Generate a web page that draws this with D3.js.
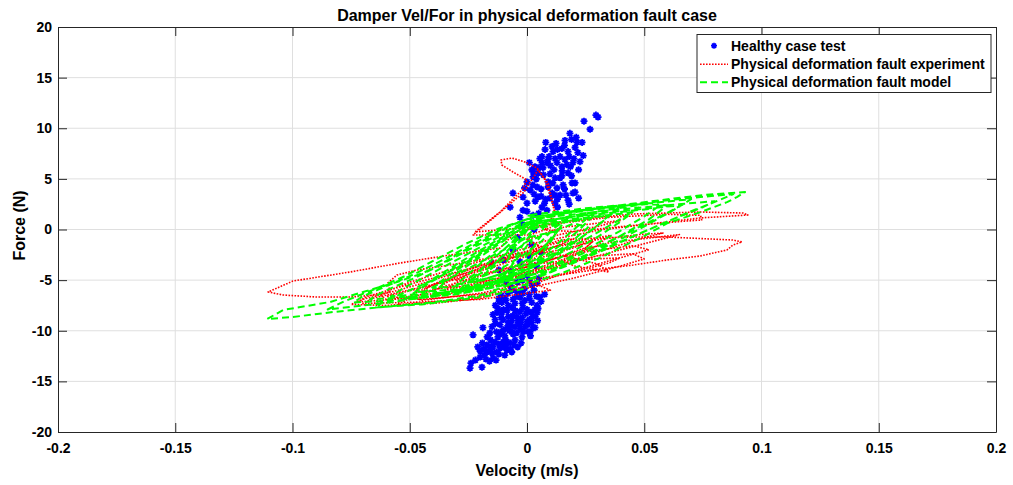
<!DOCTYPE html>
<html>
<head>
<meta charset="utf-8">
<script src="https://cdn.jsdelivr.net/npm/d3@7"></script>
<style>
  body { margin: 0; background: #fff; }
  svg { display: block; }
  text { font-family: "Liberation Sans", Arial, Helvetica, sans-serif; font-weight: bold; fill: #000; }
</style>
</head>
<body>
<svg id="chart" width="1013" height="485"></svg>
<script>
// ---- data: velocity (m/s), force (N) ----
const xTicks = [-0.2, -0.15, -0.1, -0.05, 0, 0.05, 0.1, 0.15, 0.2];
const yTicks = [-20, -15, -10, -5, 0, 5, 10, 15, 20];
const seriesNames = ["Healthy case test", "Physical deformation fault experiment", "Physical deformation fault model"];

// healthy damper measurements (scatter)
const healthyPoints = [
  [0.0294,11.3],[0.0303,11.1],[0.0243,10.7],[0.0269,9.9],[0.0183,9.5],[0.0124,8.5],[0.0162,8.8],[0.0213,8.6],
  [0.0235,8.6],[0.0149,8.0],[0.0175,7.7],[0.0205,8.1],[0.0217,7.6],[0.0111,7.7],[0.0094,7.2],[0.0141,7.2],
  [0.0162,6.9],[0.0085,6.6],[0.0068,6.1],[0.0128,6.6],[0.0149,6.2],[0.0196,6.6],[0.0226,6.7],[0.0175,5.6],
  [0.0141,5.1],[0.0154,4.4],[0.0205,4.6],[0.0205,3.7],[0.0141,3.4],[0.0175,2.9],[0.0098,3.1],[0.0021,5.9],
  [0.0034,6.2],[0.0064,6.6],[0.0047,5.6],[0.0026,5.2],[0.0,4.7],[0.0013,3.9],[-0.0017,3.2],[0.0,2.6],
  [-0.0017,1.9],[0.0043,4.2],[0.0047,3.2],[0.0064,2.2],[0.0085,1.9],[0.009,4.7],[0.0107,3.6],[-0.0072,2.2],
  [-0.003,1.2],[0.0026,1.4],[-0.006,3.6],[0.0064,7.2],[0.0026,5.7],[0.0107,8.2],[0.0077,7.9],[0.0128,4.1],
  [0.0119,2.6],[0.0166,3.4],[0.0192,4.6],[0.0149,5.3],[0.0119,3.4],[0.0196,3.6],[0.0098,5.5],[0.006,4.0],
  [0.0035,2.8],[0.008,3.0],[0.0115,5.9],[0.0185,6.2],[0.0055,7.0],
  [0.004,5.0],[0.007,5.4],[0.01,6.3],[0.012,7.0],[0.009,6.9],[0.013,7.9],[0.016,8.3],[0.018,7.2],[0.02,7.0],
  [0.017,6.4],[0.015,5.8],[0.012,5.1],[0.009,4.2],[0.006,3.3],[0.003,3.5],[0.011,4.6],[0.013,3.0],[0.016,4.0],
  [0.019,5.3],[0.022,5.9],[0.024,7.3],[0.021,9.1],[0.019,8.9],[0.008,8.6],[0.005,6.1],[0.001,6.6],[0.0025,4.4],
  [-0.001,4.1],[0.0075,2.6],[0.013,2.2],[0.018,2.5],[0.022,3.1],[0.0,1.8],[0.005,1.6],
  [-0.002,0.5],[0.003,0.0],[-0.004,-0.8],[0.002,-1.5],[-0.006,-2.0],[0.001,-2.6],[-0.003,-3.2],[0.004,-3.6],
  [-0.007,-4.1],[0.0,-4.5],[-0.01,-3.0],[0.006,-2.2],[-0.012,-4.0],[-0.015,-3.3],[-0.002,-5.0],[0.005,-4.8],
  [-0.009,-5.2],
  [-0.0239,-13.2],[-0.0243,-13.7],[-0.0192,-13.6],[-0.0132,-12.9],[-0.023,-10.4],[-0.0188,-9.7],[-0.02,-12.0],
  [-0.0183,-12.4],[-0.0158,-11.9],[-0.0145,-11.6],[-0.0115,-11.7],[-0.0085,-11.9],[-0.0072,-11.8],[-0.0158,-10.2],
  [-0.0149,-9.6],[-0.0136,-8.9],[-0.0128,-8.2],[-0.0124,-7.8],[-0.0107,-7.2],[-0.0094,-6.8],[-0.0081,-6.3],
  [-0.0064,-6.0],[-0.0119,-7.1],[-0.0085,-8.0],[-0.0064,-7.7],[-0.0051,-7.3],[-0.0043,-8.6],[-0.003,-8.1],
  [-0.0017,-7.7],[0.0,-9.1],[0.0004,-9.4],[0.0026,-9.7],[0.0026,-8.6],[0.0034,-7.9],[0.0043,-7.5],[0.0055,-6.7],
  [-0.0009,-7.0],[-0.003,-6.7],[-0.0017,-6.3],[0.003,-6.0],[0.0021,-5.5],[-0.0124,-10.6],[-0.0102,-11.1],
  [-0.0072,-11.2],[-0.0051,-10.9],[-0.0021,-10.6],[-0.0017,-10.1],[-0.0064,-10.1],[-0.0051,-9.6],[-0.0081,-9.2],
  [-0.0102,-8.9],[-0.0107,-8.2],[-0.0136,-11.1],[-0.0171,-11.4],[-0.0149,-12.2],[0.0004,-10.1],[-0.0085,-9.7],
  [-0.0107,-10.1],[0.0017,-8.2],[0.0043,-8.2],[0.0047,-7.8],[0.0034,-9.7],[0.0013,-10.1],[0.0043,-5.3],
  [-0.0175,-12.8],[-0.012,-12.3],[-0.0095,-10.5],[-0.006,-8.5],[-0.0035,-9.3],[-0.0005,-8.3],[0.001,-6.8],
  [-0.0045,-6.6],[-0.0065,-9.0],[-0.0115,-9.4],[-0.0155,-10.9],[-0.0095,-12.4],[-0.0055,-11.4],[-0.0025,-11.2],
  [0.0075,-6.4],[-0.011,-6.5],[-0.0135,-7.5],
  [-0.001,-5.8],[0.001,-6.4],[-0.004,-6.2],[-0.006,-6.9],[-0.002,-7.3],[0.002,-7.2],[-0.008,-7.5],[-0.01,-7.9],
  [-0.005,-8.0],[-0.002,-8.7],[0.001,-8.9],[-0.008,-8.6],[-0.011,-8.7],[-0.004,-9.0],[-0.007,-9.5],[-0.003,-9.8],
  [-0.01,-9.9],[-0.013,-10.1],[-0.009,-10.9],[-0.006,-10.3],[-0.012,-11.3],[-0.015,-11.5],[-0.01,-11.6],
  [-0.013,-12.1],[-0.017,-12.1],[-0.02,-12.6],[-0.016,-13.0],[-0.022,-12.9],[-0.004,-11.6],[-0.001,-9.6],
  [0.002,-9.2],[0.0,-7.9],[-0.009,-7.0],[-0.0135,-9.3],[-0.017,-10.6],[-0.019,-11.2],[-0.0115,-10.3],
  [-0.0075,-10.0],[-0.0045,-10.2],[-0.0145,-8.4],[-0.012,-6.8],[-0.007,-5.6],[-0.004,-5.2],[0.001,-5.0],
  [0.004,-6.6],[0.006,-7.1],[0.0035,-8.6],[-0.0025,-9.2],[-0.009,-11.4],[-0.0065,-12.1],[-0.0145,-12.7],
  [-0.0185,-11.8],[-0.021,-11.6],[-0.0025,-6.0],[0.0015,-10.5],[0.0045,-9.0]
];

// measured trajectory with the deformed damper
const experimentPath = [
  [0.0,-1.5],[0.0141,-0.84],[0.0311,-0.05],[0.0452,0.35],[0.0597,0.74],[0.0738,1.14],[0.0942,1.43],[0.0921,1.63],
  [0.0738,1.73],[0.0597,1.63],[0.0452,1.53],[0.0311,1.23],[0.0141,0.74],[0.0,0.2],
  [-0.0222,-0.25],[-0.0115,1.73],[-0.0021,3.9],[0.0,4.89],[-0.006,5.68],[-0.0107,6.37],[-0.0111,6.86],[-0.0064,7.06],
  [-0.0009,6.67],[0.0043,6.07],[0.0077,4.89],[0.0098,3.41],[0.0111,2.42],[0.0119,1.43],[0.0098,0.15],[0.0013,-0.54],
  [-0.023,-0.54],[-0.0128,1.43],[-0.0013,3.7],[0.0047,5.88],[0.009,4.59],[0.0107,2.91],[0.0119,1.73],[0.0077,-0.05],
  [0.02,-0.2],[0.045,0.4],[0.066,0.8],[0.0745,0.94],[0.074,1.4],[0.06,1.5],[0.035,1.2],[0.01,0.5],[-0.005,-0.3],
  [-0.0115,-1.83],[-0.0328,-2.52],[-0.0542,-3.31],[-0.0755,-4.2],[-0.0998,-5.09],[-0.1104,-6.17],[-0.104,-6.47],
  [-0.0896,-6.67],[-0.0755,-6.67],[-0.064,-6.47],[-0.0584,-6.17],[-0.0593,-5.28],[-0.0554,-4.49],[-0.0469,-4.0],
  [-0.0328,-3.51],[-0.0158,-2.81],[0.0,-2.2],
  [0.0141,-1.04],[0.0311,-0.84],[0.0452,-0.74],[0.0597,-0.74],[0.0878,-1.04],[0.0917,-1.23],[0.0878,-1.53],
  [0.0853,-2.02],[0.0738,-2.62],[0.0597,-3.01],[0.0452,-3.51],[0.0311,-3.9],[0.0141,-4.49],[0.0,-4.99],
  [-0.02,-5.8],[-0.04,-6.6],[-0.0725,-7.16],[-0.068,-6.6],[-0.05,-5.4],[-0.03,-4.2],[-0.01,-3.0],[0.01,-1.8],
  [0.03,-1.0],[0.048,-0.5],[0.058,-0.35],[0.05,-0.8],[0.04,-1.5],[0.025,-2.6],[0.01,-3.8],[-0.01,-5.0],
  [-0.035,-6.2],[-0.06,-6.9],[-0.063,-6.4],[-0.05,-5.2],[-0.03,-3.8],[-0.012,-2.6],[0.005,-1.5],
  [0.0,-3.5],[0.02,-3.0],[0.0397,-2.8],[0.035,-3.3],[0.02,-4.2],[0.0,-5.3],[-0.02,-6.3],[-0.045,-7.0],
  [-0.05,-6.5],[-0.035,-5.0],[-0.02,-3.8],[0.0,-2.4],
  [0.02,-1.2],[0.035,-0.6],[0.03,-1.6],[0.015,-3.0],[0.0,-4.2],[-0.02,-5.2],[-0.03,-5.0],[-0.02,-3.8],[-0.008,-2.8],
  [0.015,-2.0],[0.028,-1.2],[0.022,-2.4],[0.01,-3.6],[-0.005,-4.6],[-0.025,-5.6],[-0.038,-5.8],[-0.03,-4.6],[-0.015,-3.6],
  [0.01,-6.0],[-0.02,-6.9],[-0.05,-7.2],[-0.07,-7.3],[-0.066,-6.8],[-0.045,-5.7],[-0.02,-4.4],[0.005,-3.2],
  [0.025,-2.2],[0.045,-1.6],[0.052,-2.0],[0.035,-3.1],[0.015,-4.4],[0.0,-5.6],
  [-0.02,-6.8],[-0.04,-7.3],[-0.055,-7.4],[-0.05,-6.8],[-0.035,-5.6],[-0.02,-4.6],[0.0,-3.2],[0.02,-1.8],
  [0.03,-0.8],[0.025,-1.8],[0.01,-3.0],[-0.005,-4.0],[-0.02,-5.0],[-0.045,-6.2],[-0.04,-5.4],[-0.025,-4.0],
  [-0.01,-2.8],[0.005,-2.0],[0.02,-3.6],[0.035,-4.2],[0.03,-3.4],[0.012,-2.4],[0.0,-1.0],[0.015,0.2],
  [0.04,0.9],[0.03,0.3],[0.012,-0.6],
  [-0.01,-6.2],[-0.03,-7.0],[-0.06,-7.5],[-0.075,-7.4],[-0.07,-6.9],[-0.055,-6.0],[-0.04,-5.0],[-0.025,-3.9],
  [-0.01,-2.8],[0.005,-1.8],[0.02,-0.9],[0.01,-1.9],[-0.005,-3.0],[-0.02,-4.1],[-0.04,-5.5],[-0.06,-6.6],
  [-0.045,-6.9],[-0.02,-6.4],[0.0,-5.8],[0.02,-4.8],[0.04,-3.6],[0.05,-2.9],[0.045,-2.4],[0.03,-2.6],[0.015,-3.4],
  [-0.002,-4.3],[-0.018,-5.1],[-0.035,-6.0],[-0.03,-5.2],[-0.015,-4.3],[0.0,-3.7],[0.02,-2.3],[0.035,-1.3],
  [0.05,-0.9],[0.065,-0.5],[0.055,-1.1],[0.04,-2.0],[0.02,-3.2],[0.0,-4.6]
];

// simulated trajectory from the fault model
const modelPath = [
  [0.002,1.2],[0.03,2.1],[0.057,2.9],[0.075,3.4],[0.093,3.7],[0.0895,3.2],[0.0853,2.7],[0.0738,1.7],[0.0597,0.6],
  [0.0495,-0.7],[0.0397,-1.8],[0.0311,-2.8],[0.015,-4.3],[0.0,-5.4],[-0.02,-6.5],[-0.04,-7.2],[-0.0614,-7.65],
  [-0.0827,-8.15],[-0.0998,-8.64],[-0.1108,-8.84],[-0.104,-7.95],[-0.084,-7.16],[-0.0699,-6.17],[-0.0554,-5.19],
  [-0.0443,-4.3],[-0.0358,-3.3],[-0.0286,-2.3],[-0.0171,-0.9],[-0.006,0.5],[0.002,1.2],
  [0.03,2.0],[0.06,2.9],[0.088,3.5],[0.082,2.9],[0.07,1.8],[0.055,0.3],[0.04,-1.2],[0.025,-2.7],[0.01,-4.2],
  [-0.005,-5.3],[-0.03,-6.4],[-0.055,-7.0],[-0.074,-7.2],[-0.07,-6.6],[-0.06,-5.6],[-0.048,-4.4],[-0.035,-2.9],
  [-0.022,-1.3],[-0.01,0.1],[0.0,1.0],
  [0.04,2.0],[0.08,2.8],[0.075,2.2],[0.062,1.0],[0.048,-0.4],[0.034,-1.9],[0.02,-3.3],[0.005,-4.7],[-0.015,-5.7],
  [-0.04,-6.5],[-0.067,-6.9],[-0.06,-6.0],[-0.048,-4.8],[-0.036,-3.4],[-0.024,-1.9],[-0.012,-0.5],[-0.002,0.6],
  [0.03,1.6],[0.066,2.4],[0.06,1.6],[0.05,0.3],[0.038,-1.2],[0.025,-2.6],[0.01,-4.0],[-0.01,-5.2],[-0.035,-6.2],
  [-0.058,-6.6],[-0.052,-5.7],[-0.042,-4.5],[-0.03,-3.0],[-0.018,-1.5],[-0.008,-0.2],[0.0,0.7],
  [0.03,1.5],[0.055,2.1],[0.05,1.3],[0.04,-0.1],[0.028,-1.6],[0.016,-3.0],[0.004,-4.3],[-0.012,-5.3],[-0.03,-5.9],
  [-0.048,-6.2],[-0.043,-5.3],[-0.034,-4.0],[-0.024,-2.6],[-0.013,-1.1],[-0.004,0.1],[0.0,0.5],
  [0.022,1.1],[0.045,1.7],[0.04,0.8],[0.031,-0.6],[0.02,-2.1],[0.008,-3.5],[-0.004,-4.7],[-0.02,-5.4],[-0.04,-5.8],
  [-0.035,-4.8],[-0.026,-3.4],[-0.016,-1.9],[-0.007,-0.5],[0.0,0.3],
  [0.035,1.4],[0.03,0.4],[0.022,-1.0],[0.012,-2.5],[0.002,-3.8],[-0.012,-4.8],[-0.03,-5.4],[-0.025,-4.4],
  [-0.018,-3.0],[-0.01,-1.5],[-0.003,-0.3],[0.0,0.2],
  [0.025,1.0],[0.02,0.0],[0.013,-1.4],[0.005,-2.8],[-0.005,-4.0],[-0.02,-5.0],[-0.016,-3.9],[-0.01,-2.5],
  [-0.004,-1.0],[0.0,0.0],
  [0.015,0.5],[0.011,-0.8],[0.005,-2.2],[-0.002,-3.6],[-0.012,-4.6],[-0.009,-3.3],[-0.005,-1.8],[0.004,1.3],
  [0.035,2.2],[0.07,3.0],[0.066,2.4],[0.056,1.2],[0.044,-0.2],[0.03,-1.7],[0.016,-3.2],[0.0,-4.6],[-0.025,-5.9],
  [-0.055,-7.1],[-0.085,-7.9],[-0.078,-7.1],[-0.065,-5.9],[-0.052,-4.6],[-0.04,-3.1],[-0.026,-1.4],[-0.012,0.1],[0.004,1.3],
  [0.0,1.4],[0.025,2.1],[0.05,2.6],[0.046,1.9],[0.036,0.5],[0.024,-1.1],[0.012,-2.6],[0.0,-4.0],[-0.015,-5.3],
  [-0.035,-6.4],[-0.052,-6.9],[-0.046,-5.9],[-0.036,-4.5],[-0.025,-3.0],[-0.014,-1.4],[-0.004,0.2],[0.012,1.6],
  [0.04,2.4],[0.036,1.5],[0.028,0.0],[0.018,-1.6],[0.008,-3.0],[-0.004,-4.4],[-0.02,-5.6],[-0.04,-6.4],
  [-0.036,-5.4],[-0.028,-4.0],[-0.018,-2.4],[-0.008,-0.8],[0.002,0.9],[0.02,1.8],[0.028,1.3],[0.022,-0.1],
  [0.014,-1.6],[0.004,-3.2],[-0.008,-4.6],[-0.022,-5.8],[-0.028,-5.4],[-0.02,-4.0],[-0.012,-2.4],[-0.004,-0.8],
  [0.004,0.8],[0.018,1.2],[0.012,0.2],[0.006,-1.2],[-0.002,-2.6],[-0.012,-4.0],[-0.024,-5.1],[-0.018,-3.6],
  [-0.01,-2.0],[-0.003,-0.5],[0.005,0.9],[0.008,0.9],[0.006,-0.6],[0.002,-2.0],[-0.003,-3.4],[-0.008,-4.8],
  [-0.006,-3.2],[-0.002,-1.6],[0.003,0.0],[0.01,1.0],[0.014,0.2],[0.009,-1.6],[0.003,-3.4],[-0.004,-5.2],
  [-0.014,-6.0],[-0.01,-4.6],[-0.004,-2.8],[0.002,-1.0],[0.0,-5.8],[-0.02,-6.7],[-0.045,-7.4],[-0.065,-7.7],
  [-0.06,-7.0],[-0.05,-6.0],[-0.04,-5.0],[-0.03,-3.8],[-0.02,-2.4],[-0.01,-1.0],[0.0,0.4],[0.02,1.4],[0.05,2.5],
  [0.06,2.4],[0.052,1.0],[0.04,-0.6],[0.028,-2.2],[0.015,-3.6],[0.0,-5.0],[-0.02,-6.0],[-0.05,-6.9],
  [0.0,-0.8],[0.012,-0.2],[0.008,-1.6],[0.0,-3.0],[-0.01,-4.3],[-0.022,-5.2],[-0.016,-4.0],[-0.008,-2.6],
  [0.0,-1.2],[0.02,0.6],[0.026,0.2],[0.018,-1.4],[0.008,-2.8],[-0.002,-4.2],[-0.016,-5.6],[-0.03,-6.2],
  [-0.024,-5.0],[-0.014,-3.4],[-0.006,-1.8],[0.002,-0.2]
];

// ---- layout ----
const W = 1013, H = 485;
const margin = { left: 58, right: 17, top: 27, bottom: 53 };
const plotW = W - margin.left - margin.right;
const plotH = H - margin.top - margin.bottom;
const axisColor = "#262626";
const gridColor = "#dfdfdf";
const tickLen = 9;

const svg = d3.select("#chart");
const x = d3.scaleLinear().domain([-0.2, 0.2]).range([margin.left, margin.left + plotW]);
const y = d3.scaleLinear().domain([-20, 20]).range([margin.top + plotH, margin.top]);

svg.append("defs").append("clipPath").attr("id", "plotClip")
  .append("rect").attr("x", margin.left).attr("y", margin.top).attr("width", plotW).attr("height", plotH);

// grid
const grid = svg.append("g").attr("stroke", gridColor).attr("stroke-width", 1);
grid.selectAll("line.gx").data(xTicks.slice(1, -1)).join("line")
  .attr("x1", d => x(d)).attr("x2", d => x(d))
  .attr("y1", margin.top).attr("y2", margin.top + plotH);
grid.selectAll("line.gy").data(yTicks.slice(1, -1)).join("line")
  .attr("y1", d => y(d)).attr("y2", d => y(d))
  .attr("x1", margin.left).attr("x2", margin.left + plotW);

// data layers
const plot = svg.append("g").attr("clip-path", "url(#plotClip)");

function starPath(s) {
  const r = s / 2, d = r * 0.7071;
  return `M${-r},0L${r},0M0,${-r}L0,${r}M${-d},${-d}L${d},${d}M${-d},${d}L${d},${-d}`;
}

plot.append("g").selectAll("path").data(healthyPoints).join("path")
  .attr("transform", d => `translate(${x(d[0])},${y(d[1])})`)
  .attr("d", starPath(7))
  .attr("stroke", "#0000ff").attr("stroke-width", 1.8).attr("fill", "none");

const line = d3.line().x(d => x(d[0])).y(d => y(d[1]));

plot.append("path").datum(experimentPath)
  .attr("d", line).attr("fill", "none")
  .attr("stroke", "#ff0000").attr("stroke-width", 1.6)
  .attr("stroke-dasharray", "1.6,1.4").attr("stroke-linejoin", "round");

plot.append("path").datum(modelPath)
  .attr("d", line).attr("fill", "none")
  .attr("stroke", "#00ff00").attr("stroke-width", 2)
  .attr("stroke-dasharray", "7,4").attr("stroke-linejoin", "round");

// axes (ticks pointing inward on all four sides)
function styleAxis(g) {
  g.selectAll("path.domain").attr("stroke", axisColor).attr("stroke-width", 1);
  g.selectAll(".tick line").attr("stroke", axisColor).attr("stroke-width", 1);
  g.selectAll(".tick text").attr("fill", "#000")
    .style("font-family", '"Liberation Sans", Arial, Helvetica, sans-serif')
    .style("font-weight", "bold").style("font-size", "14px");
}

svg.append("g").attr("transform", `translate(0,${margin.top + plotH})`)
  .call(d3.axisBottom(x).tickValues(xTicks).tickFormat(d => String(d))
    .tickSizeInner(-tickLen).tickSizeOuter(0).tickPadding(11))
  .call(styleAxis);
svg.append("g").attr("transform", `translate(${margin.left},0)`)
  .call(d3.axisLeft(y).tickValues(yTicks).tickFormat(d => String(d))
    .tickSizeInner(-tickLen).tickSizeOuter(0).tickPadding(6))
  .call(styleAxis);
svg.append("g").attr("transform", `translate(0,${margin.top})`)
  .call(d3.axisTop(x).tickValues(xTicks).tickFormat("").tickSizeInner(-tickLen).tickSizeOuter(0))
  .call(styleAxis);
svg.append("g").attr("transform", `translate(${margin.left + plotW},0)`)
  .call(d3.axisRight(y).tickValues(yTicks).tickFormat("").tickSizeInner(-tickLen).tickSizeOuter(0))
  .call(styleAxis);

// titles
svg.append("text").attr("x", x(0)).attr("y", 21).attr("text-anchor", "middle")
  .style("font-size", "16px").text("Damper Vel/For in physical deformation fault case");
svg.append("text").attr("x", x(0)).attr("y", 476).attr("text-anchor", "middle")
  .style("font-size", "16px").text("Velocity (m/s)");
svg.append("text").attr("transform", `translate(25,${y(0) - 4}) rotate(-90)`).attr("text-anchor", "middle")
  .style("font-size", "16px").text("Force (N)");

// legend
const lg = svg.append("g");
lg.append("rect").attr("x", 697).attr("y", 34.5).attr("width", 294).attr("height", 58)
  .attr("fill", "#fff").attr("stroke", axisColor).attr("stroke-width", 1);
const rowY = [45.7, 64.3, 82.3];
lg.append("path").attr("transform", `translate(714,${rowY[0]})`).attr("d", starPath(6))
  .attr("stroke", "#0000ff").attr("stroke-width", 1.6).attr("fill", "none");
lg.append("line").attr("x1", 700).attr("x2", 728).attr("y1", rowY[1]).attr("y2", rowY[1])
  .attr("stroke", "#ff0000").attr("stroke-width", 1.6).attr("stroke-dasharray", "1.6,1.4");
lg.append("line").attr("x1", 700).attr("x2", 728).attr("y1", rowY[2]).attr("y2", rowY[2])
  .attr("stroke", "#00ff00").attr("stroke-width", 2).attr("stroke-dasharray", "7,4");
lg.selectAll("text").data(seriesNames).join("text")
  .attr("x", 731).attr("y", (d, i) => rowY[i]).attr("dy", "0.36em")
  .style("font-size", "14px").text(d => d);
</script>
</body>
</html>
